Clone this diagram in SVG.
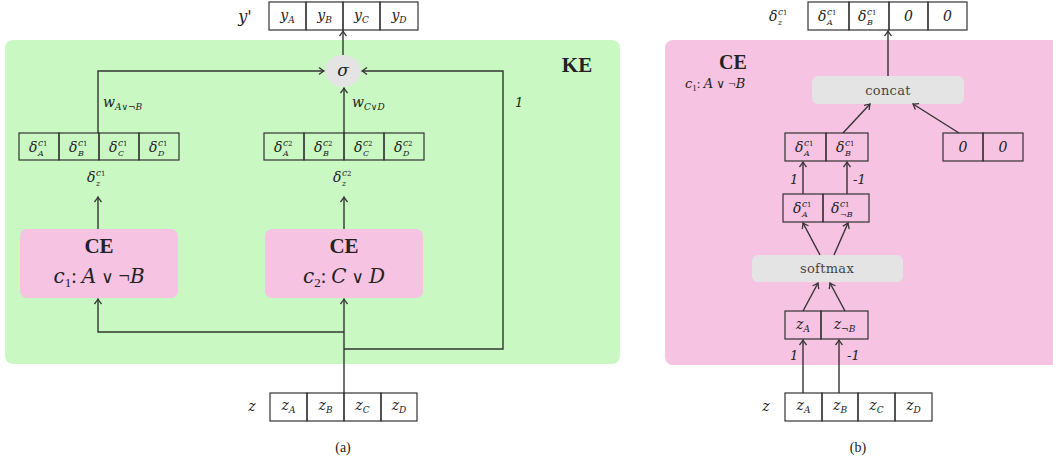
<svg xmlns="http://www.w3.org/2000/svg" width="1053" height="464" viewBox="0 0 1053 464">
<defs>
<marker id="ar" markerUnits="userSpaceOnUse" markerWidth="12" markerHeight="12" refX="0" refY="0" viewBox="-6 -6 12 12" orient="auto" overflow="visible">
<path d="M-5,-3.5 Q-1.5,-0.8 0,0 Q-1.5,0.8 -5,3.5" fill="none" stroke="#333" stroke-width="1.3"/>
</marker>
<style>
text{font-family:"Liberation Serif","DejaVu Serif",serif;fill:#222}
.m{font-family:"DejaVu Serif","Liberation Serif",serif;font-style:italic}
.d{font-size:14px}
.sp{font-size:9px;font-style:italic}
.ss{font-size:7px;font-style:normal}
.sb{font-size:8px;font-style:italic}
.cell{fill:none;stroke:#333;stroke-width:1.2}
.ln{fill:none;stroke:#333;stroke-width:1.4;marker-end:url(#ar)}
.v{font-size:14px;font-style:italic}
.bold{font-weight:bold}
.op{fill:#e4e4e4}
.opt{font-family:"DejaVu Serif",serif;font-size:13px;fill:#444;letter-spacing:0.3px}
</style>
</defs>

<!-- panel backgrounds -->
<rect id="KE" x="5" y="40" width="615" height="324" rx="8" fill="#c9f8c2"/>
<rect id="CEpanel" x="665" y="40" width="400" height="325" rx="8" fill="#f6c3e2"/>

<!-- ===== Panel (a) ===== -->
<g id="ke-label"><text x="577" y="72" text-anchor="middle" class="bold" font-size="21">KE</text></g>

<g id="yprime">
<text x="245" y="22" text-anchor="middle" class="m" font-size="16">y'</text>
<rect class="cell" x="269" y="2" width="37" height="28"/>
<rect class="cell" x="306" y="2" width="37" height="28"/>
<rect class="cell" x="343" y="2" width="37" height="28"/>
<rect class="cell" x="380" y="2" width="38" height="28"/>
<text x="287.5" y="20" text-anchor="middle" class="m v">y<tspan font-size="9" dy="3">A</tspan></text>
<text x="324.5" y="20" text-anchor="middle" class="m v">y<tspan font-size="9" dy="3">B</tspan></text>
<text x="361.5" y="20" text-anchor="middle" class="m v">y<tspan font-size="9" dy="3">C</tspan></text>
<text x="399" y="20" text-anchor="middle" class="m v">y<tspan font-size="9" dy="3">D</tspan></text>
</g>

<g id="sigma">
<ellipse cx="343" cy="71" rx="18" ry="16" class="op"/>
<text x="343" y="76" text-anchor="middle" class="m" font-size="17">σ</text>
</g>

<g id="delta1">
<rect class="cell" x="19" y="133" width="40" height="27"/>
<rect class="cell" x="59" y="133" width="40" height="27"/>
<rect class="cell" x="99" y="133" width="40" height="27"/>
<rect class="cell" x="139" y="133" width="40" height="27"/>
<text class="m d"><tspan x="29" y="152">δ</tspan><tspan class="sp" x="38" y="146">c</tspan><tspan class="ss">1</tspan><tspan class="sb" x="38" y="156">A</tspan></text>
<text class="m d"><tspan x="69" y="152">δ</tspan><tspan class="sp" x="78" y="146">c</tspan><tspan class="ss">1</tspan><tspan class="sb" x="78" y="156">B</tspan></text>
<text class="m d"><tspan x="109" y="152">δ</tspan><tspan class="sp" x="118" y="146">c</tspan><tspan class="ss">1</tspan><tspan class="sb" x="118" y="156">C</tspan></text>
<text class="m d"><tspan x="149" y="152">δ</tspan><tspan class="sp" x="158" y="146">c</tspan><tspan class="ss">1</tspan><tspan class="sb" x="158" y="156">D</tspan></text>
</g>

<g id="delta2">
<rect class="cell" x="264" y="133" width="40" height="27"/>
<rect class="cell" x="304" y="133" width="40" height="27"/>
<rect class="cell" x="344" y="133" width="40" height="27"/>
<rect class="cell" x="384" y="133" width="40" height="27"/>
<text class="m d"><tspan x="274" y="152">δ</tspan><tspan class="sp" x="283" y="146">c</tspan><tspan class="ss">2</tspan><tspan class="sb" x="283" y="156">A</tspan></text>
<text class="m d"><tspan x="314" y="152">δ</tspan><tspan class="sp" x="323" y="146">c</tspan><tspan class="ss">2</tspan><tspan class="sb" x="323" y="156">B</tspan></text>
<text class="m d"><tspan x="354" y="152">δ</tspan><tspan class="sp" x="363" y="146">c</tspan><tspan class="ss">2</tspan><tspan class="sb" x="363" y="156">C</tspan></text>
<text class="m d"><tspan x="394" y="152">δ</tspan><tspan class="sp" x="403" y="146">c</tspan><tspan class="ss">2</tspan><tspan class="sb" x="403" y="156">D</tspan></text>
</g>

<g id="dz1"><text class="m d"><tspan x="87" y="182">δ</tspan><tspan class="sp" x="96" y="176">c</tspan><tspan class="ss">1</tspan><tspan class="sb" x="96" y="186">z</tspan></text></g>
<g id="dz2"><text class="m d"><tspan x="333" y="182">δ</tspan><tspan class="sp" x="342" y="176">c</tspan><tspan class="ss">2</tspan><tspan class="sb" x="342" y="186">z</tspan></text></g>

<g id="ce1">
<rect x="20" y="229" width="158" height="69" rx="7" fill="#f6c3e2"/>
<text x="99" y="253" text-anchor="middle" class="bold" font-size="21">CE</text>
<text x="99" y="283" text-anchor="middle" font-size="20"><tspan class="m">c</tspan><tspan font-size="13" dy="4">1</tspan><tspan dy="-4">: </tspan><tspan class="m">A</tspan> <tspan font-family="DejaVu Sans" font-size="17">∨</tspan> ¬<tspan class="m">B</tspan></text>
</g>
<g id="ce2">
<rect x="265" y="229" width="158" height="69" rx="7" fill="#f6c3e2"/>
<text x="344" y="253" text-anchor="middle" class="bold" font-size="21">CE</text>
<text x="344" y="283" text-anchor="middle" font-size="20"><tspan class="m">c</tspan><tspan font-size="13" dy="4">2</tspan><tspan dy="-4">: </tspan><tspan class="m">C</tspan> <tspan font-family="DejaVu Sans" font-size="17">∨</tspan> <tspan class="m">D</tspan></text>
</g>

<g id="zleft">
<text x="252" y="411" text-anchor="middle" class="m" font-size="14">z</text>
<rect class="cell" x="270" y="393" width="37" height="28"/>
<rect class="cell" x="307" y="393" width="37" height="28"/>
<rect class="cell" x="344" y="393" width="37" height="28"/>
<rect class="cell" x="381" y="393" width="36" height="28"/>
<text x="288.5" y="410" text-anchor="middle" class="m v">z<tspan font-size="9" dy="3">A</tspan></text>
<text x="325.5" y="410" text-anchor="middle" class="m v">z<tspan font-size="9" dy="3">B</tspan></text>
<text x="362.5" y="410" text-anchor="middle" class="m v">z<tspan font-size="9" dy="3">C</tspan></text>
<text x="399" y="410" text-anchor="middle" class="m v">z<tspan font-size="9" dy="3">D</tspan></text>
</g>

<g id="labels-a">
<text x="103" y="107" class="m" font-size="14">w<tspan font-size="9" dy="3">A∨¬B</tspan></text>
<text x="352" y="107" class="m" font-size="14">w<tspan font-size="9" dy="3">C∨D</tspan></text>
<text x="515" y="107" class="m" font-size="13">1</text>
<text x="343" y="452" text-anchor="middle" font-size="14">(a)</text>
</g>

<!-- ===== Panel (b) ===== -->
<g id="ce-title">
<text x="733" y="69" text-anchor="middle" class="bold" font-size="20">CE</text>
<text x="685" y="88" font-size="13"><tspan class="m">c</tspan><tspan font-size="9" dy="3">1</tspan><tspan dy="-3">: </tspan><tspan class="m">A</tspan> <tspan font-family="DejaVu Sans" font-size="12">∨</tspan> ¬<tspan class="m">B</tspan></text>
</g>

<g id="top-out">
<text class="m d"><tspan x="769" y="21">δ</tspan><tspan class="sp" x="778" y="15">c</tspan><tspan class="ss">1</tspan><tspan class="sb" x="778" y="25">z</tspan></text>
<rect class="cell" x="808" y="2" width="41" height="28"/>
<rect class="cell" x="849" y="2" width="40" height="28"/>
<rect class="cell" x="889" y="2" width="39" height="28"/>
<rect class="cell" x="928" y="2" width="39" height="28"/>
<text class="m d"><tspan x="818" y="21">δ</tspan><tspan class="sp" x="827" y="15">c</tspan><tspan class="ss">1</tspan><tspan class="sb" x="827" y="25">A</tspan></text>
<text class="m d"><tspan x="858" y="21">δ</tspan><tspan class="sp" x="867" y="15">c</tspan><tspan class="ss">1</tspan><tspan class="sb" x="867" y="25">B</tspan></text>
<text x="908.5" y="21" text-anchor="middle" class="m" font-size="14">0</text>
<text x="947.5" y="21" text-anchor="middle" class="m" font-size="14">0</text>
</g>

<g id="concat">
<rect x="812" y="76" width="152" height="28" rx="6" class="op"/>
<text x="888" y="95" text-anchor="middle" class="opt">concat</text>
</g>

<g id="delta-ab">
<rect class="cell" x="785" y="133" width="41" height="28"/>
<rect class="cell" x="826" y="133" width="42" height="28"/>
<text class="m d"><tspan x="795" y="152">δ</tspan><tspan class="sp" x="804" y="146">c</tspan><tspan class="ss">1</tspan><tspan class="sb" x="804" y="156">A</tspan></text>
<text class="m d"><tspan x="836" y="152">δ</tspan><tspan class="sp" x="845" y="146">c</tspan><tspan class="ss">1</tspan><tspan class="sb" x="845" y="156">B</tspan></text>
</g>

<g id="zeros">
<rect class="cell" x="943" y="133" width="40" height="28"/>
<rect class="cell" x="983" y="133" width="40" height="28"/>
<text x="963" y="152" text-anchor="middle" class="m" font-size="14">0</text>
<text x="1003" y="152" text-anchor="middle" class="m" font-size="14">0</text>
</g>

<g id="delta-anb">
<rect class="cell" x="783" y="194" width="40" height="28"/>
<rect class="cell" x="823" y="194" width="46" height="28"/>
<text class="m d"><tspan x="793" y="213">δ</tspan><tspan class="sp" x="802" y="207">c</tspan><tspan class="ss">1</tspan><tspan class="sb" x="802" y="217">A</tspan></text>
<text class="m d"><tspan x="831" y="213">δ</tspan><tspan class="sp" x="840" y="207">c</tspan><tspan class="ss">1</tspan><tspan class="sb" x="840" y="217">¬B</tspan></text>
</g>

<g id="softmax">
<rect x="752" y="255" width="151" height="27" rx="6" class="op"/>
<text x="827" y="273" text-anchor="middle" class="opt">softmax</text>
</g>

<g id="z-anb">
<rect class="cell" x="785" y="311" width="36" height="28"/>
<rect class="cell" x="821" y="311" width="47" height="28"/>
<text x="803" y="329" text-anchor="middle" class="m v">z<tspan font-size="9" dy="3">A</tspan></text>
<text x="844.5" y="329" text-anchor="middle" class="m v">z<tspan font-size="9" dy="3">¬B</tspan></text>
</g>

<g id="zright">
<text x="766" y="411" text-anchor="middle" class="m" font-size="14">z</text>
<rect class="cell" x="785" y="393" width="37" height="28"/>
<rect class="cell" x="822" y="393" width="36" height="28"/>
<rect class="cell" x="858" y="393" width="37" height="28"/>
<rect class="cell" x="895" y="393" width="37" height="28"/>
<text x="803.5" y="410" text-anchor="middle" class="m v">z<tspan font-size="9" dy="3">A</tspan></text>
<text x="840" y="410" text-anchor="middle" class="m v">z<tspan font-size="9" dy="3">B</tspan></text>
<text x="876.5" y="410" text-anchor="middle" class="m v">z<tspan font-size="9" dy="3">C</tspan></text>
<text x="913.5" y="410" text-anchor="middle" class="m v">z<tspan font-size="9" dy="3">D</tspan></text>
</g>

<g id="labels-b">
<text x="790" y="184" class="m" font-size="13">1</text>
<text x="853" y="184" class="m" font-size="13">-1</text>
<text x="790" y="360" class="m" font-size="13">1</text>
<text x="847" y="360" class="m" font-size="13">-1</text>
<text x="858" y="452" text-anchor="middle" font-size="14">(b)</text>
</g>

<!-- connectors -->
<g id="connectors">
<path class="ln" d="M343,55 V31"/>
<path class="ln" d="M98,133 V71 H324"/>
<path class="ln" d="M344,133 V88"/>
<path class="ln" d="M98,229 V197"/>
<path class="ln" d="M344,229 V197"/>
<path class="ln" d="M344,393 V299"/>
<path class="ln" d="M344,332 H98 V299"/>
<path class="ln" d="M344,349 H503 V71 H362"/>

<path class="ln" d="M888,76 V31"/>
<path class="ln" d="M843,133 L870,104"/>
<path class="ln" d="M959,133 L913,104"/>
<path class="ln" d="M803,194 V162"/>
<path class="ln" d="M847,194 V162"/>
<path class="ln" d="M820,255 L803,223"/>
<path class="ln" d="M834,255 L848,223"/>
<path class="ln" d="M803,311 L818,283"/>
<path class="ln" d="M845,311 L830,283"/>
<path class="ln" d="M803,393 V340"/>
<path class="ln" d="M839,393 V340"/>
</g>
</svg>
